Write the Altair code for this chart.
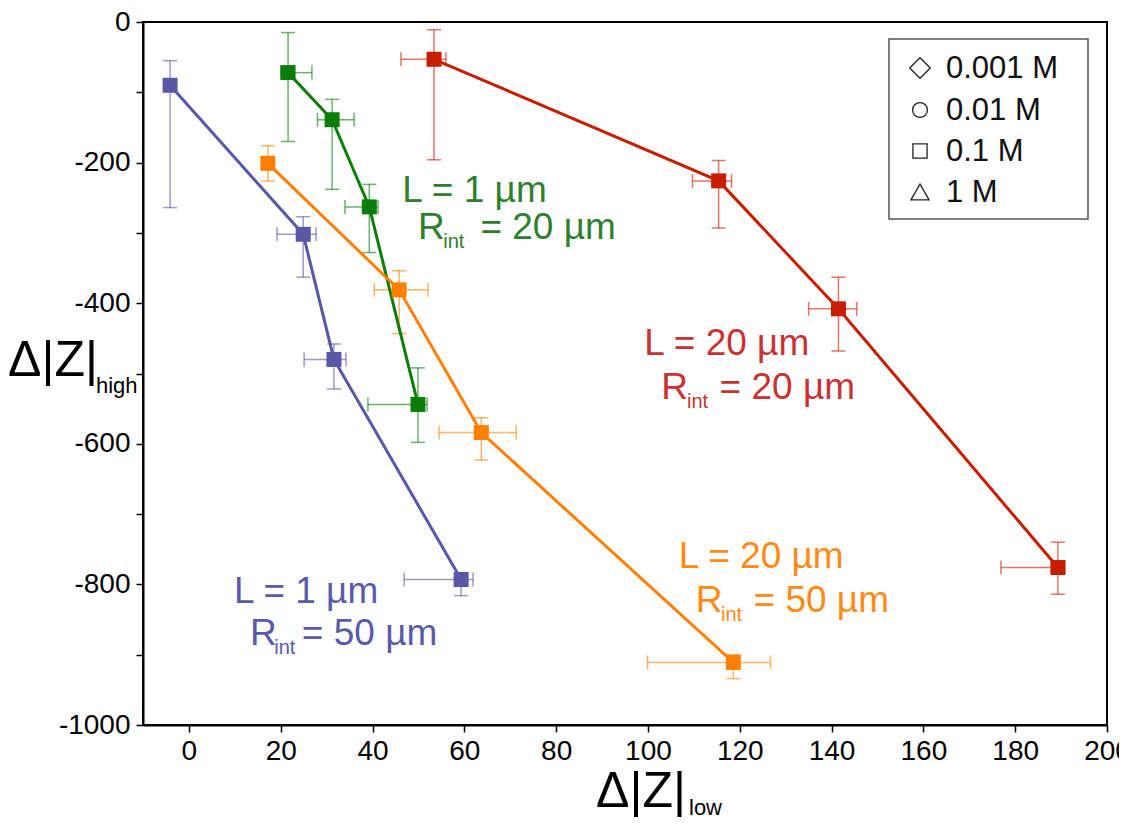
import altair as alt
import pandas as pd

# ---------------- data ----------------
series_names = ["L=1 µm, Rint=50 µm", "L=1 µm, Rint=20 µm", "L=20 µm, Rint=50 µm", "L=20 µm, Rint=20 µm"]
line_colors = ["#5858a6", "#0a7d0a", "#ff8000", "#c81e00"]
text_colors = ["#5a5aaa", "#2e802e", "#ff8a14", "#c83232"]

blue_x = [-4.1, 24.9, 31.6, 59.3]
blue_y = [-90, -302, -480, -793]
blue_xlo = [-4.1, 19.2, 25.1, 46.9]
blue_xhi = [-4.1, 27.7, 34.2, 61.9]
blue_ylo = [-264, -363, -522, -816]
blue_yhi = [-55, -277, -458, -785]

green_x = [21.6, 31.2, 39.3, 49.9]
green_y = [-72, -139, -263, -544]
green_xlo = [20.0, 28.0, 34.0, 39.0]
green_xhi = [26.8, 36.0, 41.2, 51.9]
green_ylo = [-170, -238, -328, -598]
green_yhi = [-15, -110, -231, -492]

orange_x = [17.2, 45.8, 63.7, 118.6]
orange_y = [-201, -381, -584, -911]
orange_xlo = [17.2, 40.4, 54.5, 99.9]
orange_xhi = [17.2, 52.1, 71.3, 126.7]
orange_ylo = [-226, -443, -623, -934]
orange_yhi = [-176, -354, -563, -900]

red_x = [53.4, 115.4, 141.5, 189.3]
red_y = [-53, -226, -408, -776]
red_xlo = [46.2, 109.7, 135.0, 176.9]
red_xhi = [56.0, 118.2, 145.5, 190.8]
red_ylo = [-196, -293, -468, -814]
red_yhi = [-11, -197, -363, -740]

x_ticks = [0, 20, 40, 60, 80, 100, 120, 140, 160, 180, 200]
y_ticks = [-1000, -900, -800, -700, -600, -500, -400, -300, -200, -100, 0]

# annotations (data coordinates): "L = ..." line, "R", "int", "= ... µm"
ann_L_text = ["L = 1 µm", "L = 1 µm", "L = 20 µm", "L = 20 µm"]
ann_L_x = [9.8, 46.5, 106.7, 99.2]
ann_L_y = [-827, -256, -776, -474]
ann_R_x = [13.3, 49.9, 110.4, 102.9]
ann_R_y = [-886, -308, -839, -536]
ann_sub_x = [18.6, 55.4, 115.9, 108.5]
ann_sub_y = [-899, -321, -852, -549]
ann_eq_text = ["= 50 µm", "= 20 µm", "= 50 µm", "= 20 µm"]
ann_eq_x = [24.6, 63.5, 123.0, 115.6]

legend_labels = ["0.001 M", "0.01 M", "0.1 M", "1 M"]
legend_shapes = ["diamond", "circle", "square", "triangle-up"]
legend_sizes = [420, 220, 200, 330]

# ---------------- build table ----------------
rows = []
all_sets = [
    (blue_x, blue_y, blue_xlo, blue_xhi, blue_ylo, blue_yhi),
    (green_x, green_y, green_xlo, green_xhi, green_ylo, green_yhi),
    (orange_x, orange_y, orange_xlo, orange_xhi, orange_ylo, orange_yhi),
    (red_x, red_y, red_xlo, red_xhi, red_ylo, red_yhi),
]
for name, (xs, ys, xlo, xhi, ylo, yhi) in zip(series_names, all_sets):
    for i in range(len(xs)):
        rows.append(dict(series=name, idx=i, x=xs[i], y=ys[i],
                         xlo=xlo[i], xhi=xhi[i], ylo=ylo[i], yhi=yhi[i]))
df = pd.DataFrame(rows)

FONT = "Liberation Sans, Arial, Helvetica, sans-serif"

xscale = alt.Scale(domain=[-10, 200], nice=False, zero=False)
yscale = alt.Scale(domain=[-1000, 0], nice=False, zero=False)
cscale = alt.Scale(domain=series_names, range=line_colors)

xaxis = alt.Axis(values=x_ticks, title=None, labelFlush=False, labelOverlap=False,
                 labelExpr="'' + datum.value")
yaxis = alt.Axis(values=y_ticks, title=None, labelOverlap=False, labelFlush=False,
                 labelExpr="datum.value % 200 == 0 ? '' + datum.value : ''")

base = alt.Chart(df)
col = alt.Color("series:N", scale=cscale, legend=None)

v_err = base.mark_rule(strokeWidth=1.5, opacity=0.6).encode(
    x=alt.X("x:Q", scale=xscale, axis=xaxis),
    y=alt.Y("ylo:Q", scale=yscale, axis=yaxis),
    y2="yhi:Q",
    color=col,
)
h_err = base.mark_rule(strokeWidth=1.5, opacity=0.6).encode(
    x="xlo:Q", x2="xhi:Q", y="y:Q", color=col
)
cap_ylo = base.mark_tick(orient="horizontal", size=14, thickness=1.5, opacity=0.6).encode(
    x="x:Q", y="ylo:Q", color=col)
cap_yhi = base.mark_tick(orient="horizontal", size=14, thickness=1.5, opacity=0.6).encode(
    x="x:Q", y="yhi:Q", color=col)
cap_xlo = base.mark_tick(orient="vertical", size=14, thickness=1.5, opacity=0.6).encode(
    x="xlo:Q", y="y:Q", color=col)
cap_xhi = base.mark_tick(orient="vertical", size=14, thickness=1.5, opacity=0.6).encode(
    x="xhi:Q", y="y:Q", color=col)

lines = base.mark_line(strokeWidth=3).encode(
    x="x:Q", y="y:Q", color=col, detail="series:N", order="idx:Q"
)
points = base.mark_point(shape="square", filled=True, size=225, opacity=1).encode(
    x="x:Q", y="y:Q", color=col
)

layers = [v_err, h_err, cap_ylo, cap_yhi, cap_xlo, cap_xhi, lines, points]

# annotations
for i in range(4):
    c = text_colors[i]
    d1 = pd.DataFrame({"x": [ann_L_x[i]], "y": [ann_L_y[i]], "t": [ann_L_text[i]]})
    layers.append(alt.Chart(d1).mark_text(align="left", baseline="alphabetic", font=FONT,
                                          fontSize=37, color=c).encode(x="x:Q", y="y:Q", text="t:N"))
    d2 = pd.DataFrame({"x": [ann_R_x[i]], "y": [ann_R_y[i]], "t": ["R"]})
    layers.append(alt.Chart(d2).mark_text(align="left", baseline="alphabetic", font=FONT,
                                          fontSize=37, color=c).encode(x="x:Q", y="y:Q", text="t:N"))
    d3 = pd.DataFrame({"x": [ann_sub_x[i]], "y": [ann_sub_y[i]], "t": ["int"]})
    layers.append(alt.Chart(d3).mark_text(align="left", baseline="alphabetic", font=FONT,
                                          fontSize=20, color=c).encode(x="x:Q", y="y:Q", text="t:N"))
    d4 = pd.DataFrame({"x": [ann_eq_x[i]], "y": [ann_R_y[i]], "t": [ann_eq_text[i]]})
    layers.append(alt.Chart(d4).mark_text(align="left", baseline="alphabetic", font=FONT,
                                          fontSize=37, color=c).encode(x="x:Q", y="y:Q", text="t:N"))

# legend box (pixel positions relative to the plot area)
box = alt.Chart(pd.DataFrame({"a": [0]})).mark_rect(
    fill="white", stroke="#555555", strokeWidth=1.5
).encode(x=alt.value(746), x2=alt.value(945), y=alt.value(17), y2=alt.value(197))
layers.append(box)
row_y = [46, 88, 129, 170]
for i in range(4):
    dl = pd.DataFrame({"t": [legend_labels[i]]})
    layers.append(alt.Chart(dl).mark_point(shape=legend_shapes[i], filled=False, size=legend_sizes[i],
                                           color="#222222", strokeWidth=1.3, opacity=1).encode(
        x=alt.value(777), y=alt.value(row_y[i])))
    layers.append(alt.Chart(dl).mark_text(align="left", baseline="middle", font=FONT,
                                          fontSize=31, color="#111111").encode(
        x=alt.value(803), y=alt.value(row_y[i] + 1), text="t:N"))

# axis titles
title_main = pd.DataFrame({"t": ["Δ|Z|"]})
title_high = pd.DataFrame({"t": ["high"]})
title_low = pd.DataFrame({"t": ["low"]})
layers.append(alt.Chart(title_main).mark_text(align="left", baseline="alphabetic", font=FONT,
                                              fontSize=50, color="black").encode(
    x=alt.value(-135), y=alt.value(354), text="t:N"))
layers.append(alt.Chart(title_high).mark_text(align="left", baseline="alphabetic", font=FONT,
                                              fontSize=22, color="black").encode(
    x=alt.value(-47), y=alt.value(371), text="t:N"))
layers.append(alt.Chart(title_main).mark_text(align="left", baseline="alphabetic", font=FONT,
                                              fontSize=50, color="black").encode(
    x=alt.value(453), y=alt.value(785), text="t:N"))
layers.append(alt.Chart(title_low).mark_text(align="left", baseline="alphabetic", font=FONT,
                                             fontSize=22, color="black").encode(
    x=alt.value(546), y=alt.value(793), text="t:N"))

chart = alt.layer(*layers).properties(
    width=964, height=703,
    autosize=alt.AutoSizeParams(type="none"),
    padding={"left": 135, "top": 14, "right": 12, "bottom": 94},
).configure_view(
    stroke="black", strokeWidth=2
).configure_axis(
    domainColor="black", domainWidth=2, tickColor="black", tickWidth=1.5, tickSize=7,
    labelFont=FONT, labelFontSize=28, labelColor="black", grid=False, labelPadding=5,
).configure_axisY(labelPadding=6)

chart.save("out.html", embed_options={"renderer": "svg", "actions": False})
